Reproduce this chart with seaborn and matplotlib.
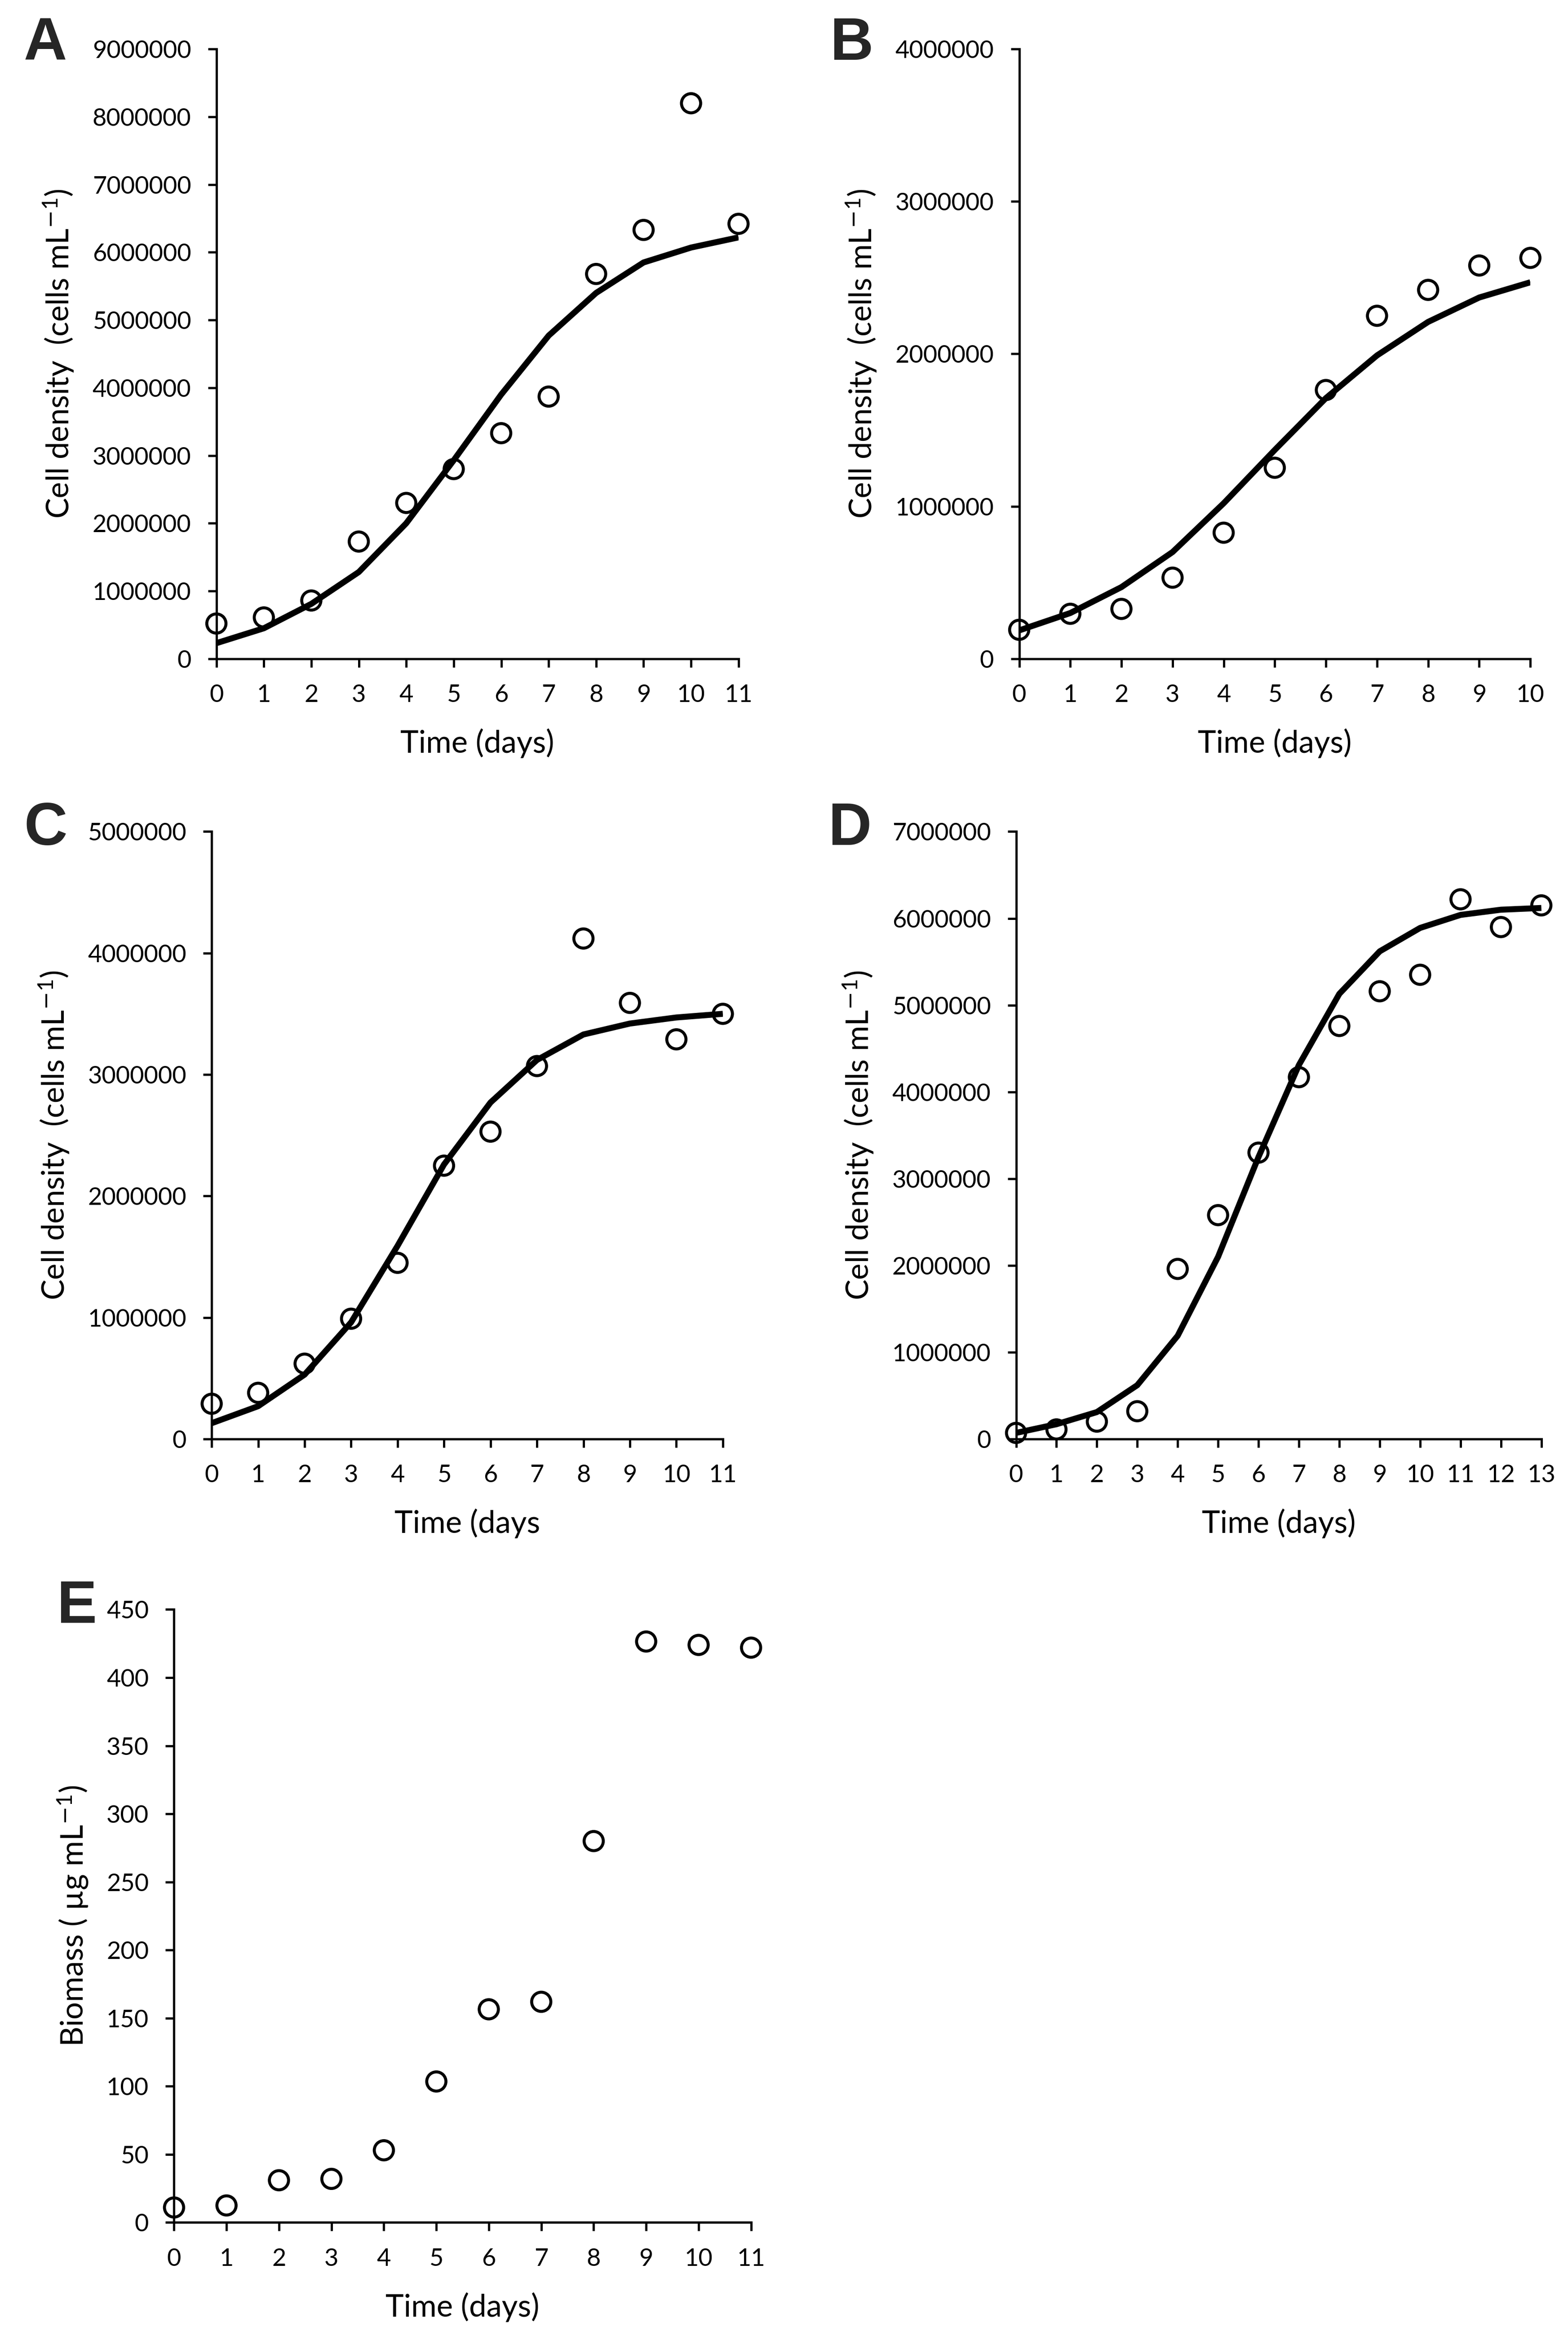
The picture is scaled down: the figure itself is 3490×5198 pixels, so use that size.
import numpy as np
import pandas as pd
import matplotlib
matplotlib.use("Agg")
import matplotlib.pyplot as plt
import matplotlib.ticker as mticker
import seaborn as sns

sns.set_theme(style="white")
plt.rcParams['font.family'] = ['Lato', 'DejaVu Sans']
plt.rcParams['mathtext.fontset'] = 'custom'
plt.rcParams['mathtext.rm'] = 'Lato'
plt.rcParams['mathtext.it'] = 'Lato'

# ---------------- data ----------------
days_A = list(range(12))
obs_A = [520000, 610000, 860000, 1730000, 2300000, 2800000, 3330000, 3870000,
         5680000, 6330000, 8200000, 6420000]
fit_A = [230000, 450000, 810000, 1280000, 2000000, 2930000, 3900000, 4770000,
         5400000, 5850000, 6070000, 6220000]

days_B = list(range(11))
obs_B = [190000, 295000, 327000, 532000, 827000, 1253000, 1763000, 2250000,
         2420000, 2580000, 2630000]
fit_B = [186000, 300000, 470000, 700000, 1020000, 1370000, 1710000, 1990000,
         2210000, 2370000, 2470000]

days_C = list(range(12))
obs_C = [290000, 380000, 620000, 990000, 1450000, 2250000, 2530000, 3070000,
         4120000, 3590000, 3290000, 3500000]
fit_C = [130000, 270000, 530000, 960000, 1590000, 2260000, 2770000, 3120000,
         3330000, 3420000, 3470000, 3500000]

days_D = list(range(14))
obs_D = [70000, 110000, 200000, 320000, 1960000, 2580000, 3300000, 4170000,
         4760000, 5160000, 5350000, 6220000, 5900000, 6150000]
fit_D = [70000, 170000, 310000, 620000, 1190000, 2100000, 3250000, 4310000,
         5130000, 5620000, 5890000, 6040000, 6100000, 6120000]

days_E = list(range(12))
obs_E = [11, 12.5, 31, 32, 53, 103.5, 156.5, 162, 280, 426.5, 424, 422]

panels = [
    dict(letter="A", days=days_A, obs=obs_A, fit=fit_A, ymax=9000000, ystep=1000000,
         ylabel="Cell density  (cells mL$^{\\mathsf{-}1}$)", xlabel="Time (days)"),
    dict(letter="B", days=days_B, obs=obs_B, fit=fit_B, ymax=4000000, ystep=1000000,
         ylabel="Cell density  (cells mL$^{\\mathsf{-}1}$)", xlabel="Time (days)"),
    dict(letter="C", days=days_C, obs=obs_C, fit=fit_C, ymax=5000000, ystep=1000000,
         ylabel="Cell density  (cells mL$^{\\mathsf{-}1}$)", xlabel="Time (days"),
    dict(letter="D", days=days_D, obs=obs_D, fit=fit_D, ymax=7000000, ystep=1000000,
         ylabel="Cell density  (cells mL$^{\\mathsf{-}1}$)", xlabel="Time (days)"),
    dict(letter="E", days=days_E, obs=obs_E, fit=None, ymax=450, ystep=50,
         ylabel="Biomass ( µg mL$^{\\mathsf{-}1}$)", xlabel="Time (days)"),
]

# axes rectangles [left, bottom, width, height] in figure fractions
rects = [
    [0.138, 0.718, 0.333, 0.261],
    [0.650, 0.718, 0.326, 0.261],
    [0.135, 0.384, 0.326, 0.260],
    [0.648, 0.384, 0.335, 0.260],
    [0.111, 0.0486, 0.368, 0.2624],
]
letter_pos = [(0.029, 0.981), (0.543, 0.981), (0.029, 0.645), (0.542, 0.645), (0.049, 0.312)]

fig = plt.figure(figsize=(3490 / 300, 5198 / 300), dpi=300)

for p, r, lp in zip(panels, rects, letter_pos):
    ax = fig.add_axes(r)
    df = pd.DataFrame({"day": p["days"], "obs": p["obs"]})
    if p["fit"] is not None:
        dff = pd.DataFrame({"day": p["days"], "fit": p["fit"]})
        sns.lineplot(data=dff, x="day", y="fit", ax=ax, color="black", lw=3.2,
                     zorder=2, solid_capstyle="butt")
    sns.scatterplot(data=df, x="day", y="obs", ax=ax, marker="o", s=105,
                    facecolor="none", edgecolor="black", linewidth=1.6, zorder=3,
                    clip_on=False)
    xmax = p["days"][-1]
    ax.set_xlim(0, xmax)
    ax.set_ylim(0, p["ymax"])
    ax.set_xticks(p["days"])
    ax.set_yticks(np.arange(0, p["ymax"] + p["ystep"] / 2, p["ystep"]))
    ax.yaxis.set_major_formatter(mticker.FuncFormatter(lambda v, pos: f"{int(round(v))}"))
    for s in ["top", "right"]:
        ax.spines[s].set_visible(False)
    for s in ["left", "bottom"]:
        ax.spines[s].set_linewidth(1.2)
        ax.spines[s].set_color("black")
    ax.tick_params(axis="both", direction="out", length=4.5, width=1.2, colors="black",
                   labelsize=13, left=True, bottom=True, pad=9)
    ax.set_xlabel(p["xlabel"], fontsize=16.5, color="black", labelpad=12)
    ax.set_ylabel(p["ylabel"], fontsize=16.5, color="black", labelpad=9)
    ax.grid(False)
    fig.text(lp[0], lp[1], p["letter"], fontsize=32, fontweight="bold",
             family="Liberation Sans", ha="center", va="center")

fig.savefig("out.png", dpi=300, facecolor="white")
